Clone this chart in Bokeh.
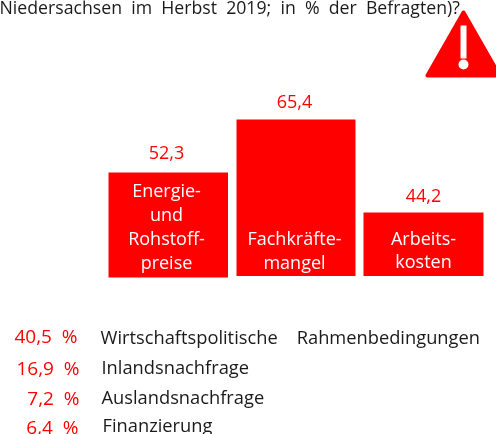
from bokeh.embed import file_html
from bokeh.resources import INLINE
from bokeh.plotting import figure
from bokeh.models import Range1d
from bokeh.core.properties import value

FONT = "Open Sans"
RED = "#ff0000"
INK = "#1a1a1a"
NB = "\u00a0"

title_line = f"Niedersachsen{NB}{NB}im{NB}{NB}Herbst{NB}{NB}2019;{NB}{NB}in{NB}{NB}%{NB}{NB}der{NB}{NB}Befragten)?"

bar_values = ["52,3", "65,4", "44,2"]
bar_lines = [["Energie-", "und", "Rohstoff-", "preise"], ["Fachkräfte-", "mangel"], ["Arbeits-", "kosten"]]
# Bar extents as drawn in the picture (the infographic's bars are not proportional to the values)
bar_drawn_top = [172, 119, 212]
bar_drawn_bottom = [277, 275.5, 275.5]

other_percent = [f"40,5{NB}{NB}%", f"16,9{NB}{NB}%", f"7,2{NB}{NB}%", f"6,4{NB}{NB}%"]
other_names = [f"Wirtschaftspolitische{NB}{NB}{NB}{NB}Rahmenbedingungen", "Inlandsnachfrage", "Auslandsnachfrage", "Finanzierung"]

W, H = 496, 434
p = figure(width=W, height=H, output_backend="svg", toolbar_location=None,
           x_range=Range1d(0, W), y_range=Range1d(H, 0), min_border=0, outline_line_color=None)
p.styles = {"position": "fixed", "left": "0px", "top": "0px"}
p.axis.visible = False
p.grid.visible = False

def txt(x, y, s, color, size, align="left"):
    p.text([x], [y], text=[s], text_color=color, text_font=value(FONT), text_font_size=f"{size}px",
           text_align=align, text_baseline="alphabetic", y_offset=-7)

txt(-1, 13, title_line, INK, 17.7)

# warning triangle
p.patch([463, 427, 499], [12, 75, 75], fill_color=RED, line_color=RED, line_width=4, line_join="round")
p.quad(left=[460], right=[466], top=[25], bottom=[58], fill_color="white", line_color=None)
p.circle([463], [64], radius=5, fill_color="white", line_color=None)

# bars
bar_left = [108, 236, 363]
bar_right = [227.5, 355, 483]
p.quad(left=bar_left, right=bar_right, top=bar_drawn_top, bottom=bar_drawn_bottom, fill_color=RED, line_color=None)

value_xy = [(166, 159), (294, 108), (423, 202)]
for (x, y), s in zip(value_xy, bar_values):
    txt(x, y, s, RED, 18, "center")

label_base = [[196, 220, 244, 268], [244, 268], [244, 267]]
label_x = [166, 294, 423]
for x, lines, bases in zip(label_x, bar_lines, label_base):
    for s, y in zip(lines, bases):
        txt(x, y, s, "white", 18, "center")

pct_x = [77, 79, 79, 78]
pct_y = [342, 374, 404, 433]
name_x = [100, 101, 101, 102]
name_y = [343, 373, 403, 431]
for i in range(4):
    txt(pct_x[i], pct_y[i], other_percent[i], RED, 19, "right")
    txt(name_x[i], name_y[i], other_names[i], INK, 18.3)

open("out.html", "w").write(file_html(p, INLINE))
